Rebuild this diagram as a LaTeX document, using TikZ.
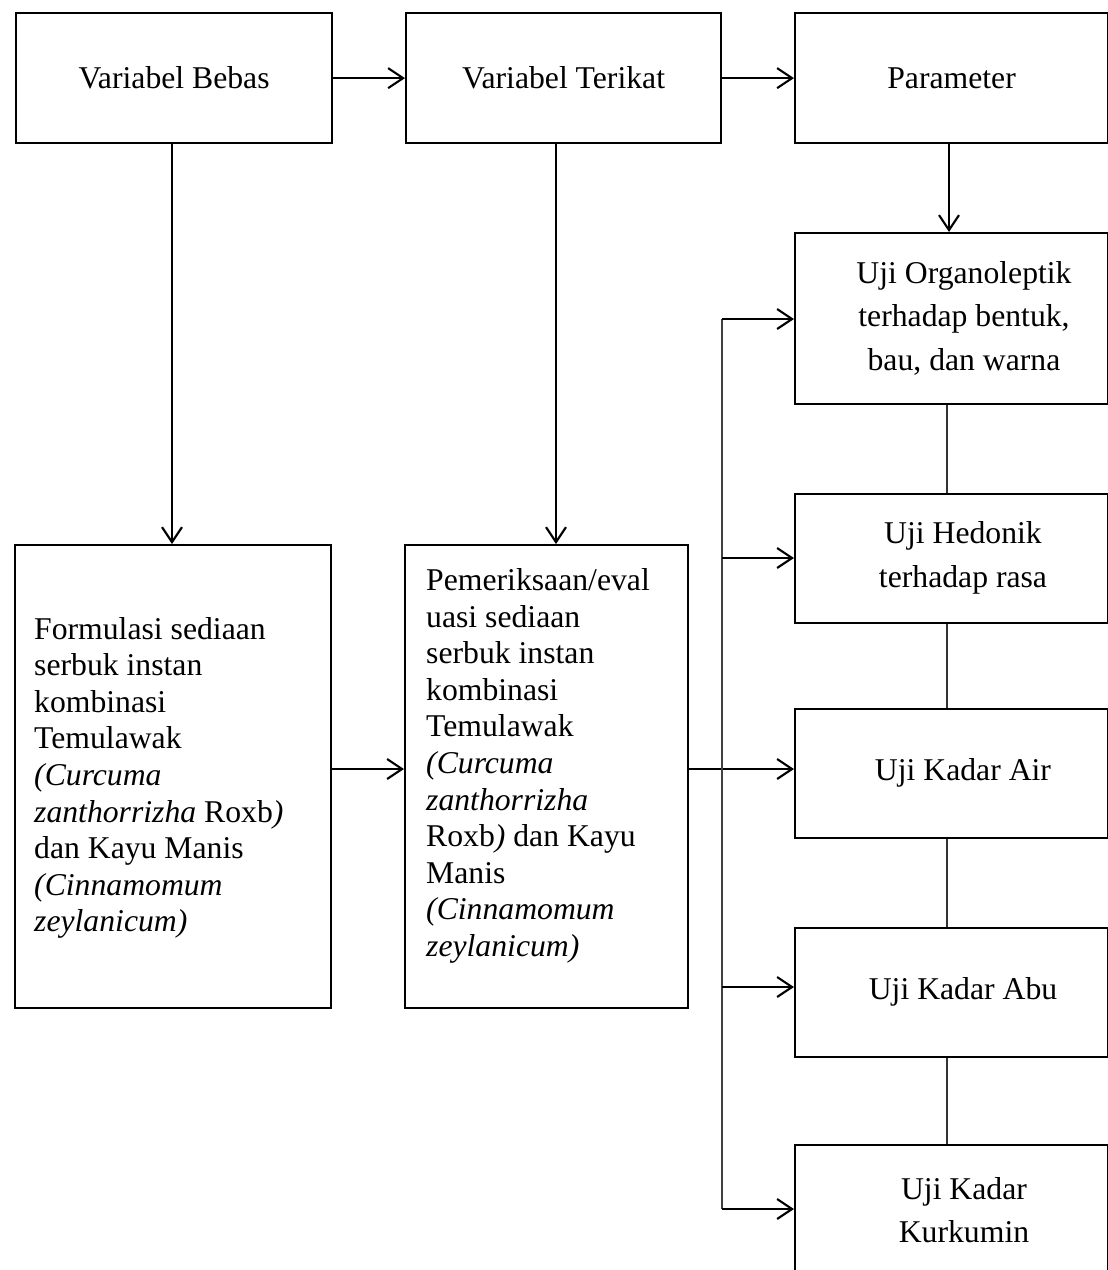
\documentclass[tikz,border=0pt]{standalone}
\usepackage{fontspec}
\setmainfont{Liberation Serif}
\usetikzlibrary{arrows.meta}
\begin{document}
\begin{tikzpicture}[x=1pt,y=-1pt,
  box/.style={draw, line width=2.2pt, inner sep=0pt, anchor=north west,
    font=\fontsize{31.7}{36.7}\selectfont},
  ltxt/.style={font=\fontsize{31.7}{36.6}\selectfont, align=left, inner sep=0pt, anchor=west},
  rtxt/.style={font=\fontsize{31.7}{43.5}\selectfont, align=center, inner sep=0pt},
  arr/.style={line width=2.1pt, -{Straight Barb[length=15pt,width=20pt,line width=2.1pt]}},
  link/.style={line width=1.3pt, draw=black!80},
  bus/.style={line width=1.7pt, draw=black!75}]
\useasboundingbox (0,0) rectangle (1108,1270);
\clip (0,0) rectangle (1108,1270);

% top row
\node[box, minimum width=316, minimum height=130] (bebas) at (15,12) {Variabel Bebas};
\node[box, minimum width=315, minimum height=130] (terikat) at (405,12) {Variabel Terikat};
\node[box, minimum width=313, minimum height=130] (param) at (794,12) {Parameter};

% left big boxes
\node[box, minimum width=316, minimum height=463] (form) at (14,544) {};
\node[box, minimum width=283, minimum height=463] (pem) at (404,544) {};
\node[ltxt] (formT) at (34,778) {Formulasi sediaan\\
serbuk instan\\
kombinasi\\
Temulawak\\
\textit{(Curcuma}\\
\textit{zanthorrizha} Roxb\textit{)}\\
dan Kayu Manis\\
\textit{(Cinnamomum}\\
\textit{zeylanicum)}};
\node[ltxt] (pemT) at (426,766) {Pemeriksaan/eval\\
uasi sediaan\\
serbuk instan\\
kombinasi\\
Temulawak\\
\textit{(Curcuma}\\
\textit{zanthorrizha}\\
Roxb\textit{)} dan Kayu\\
Manis\\
\textit{(Cinnamomum}\\
\textit{zeylanicum)}};

% right column boxes
\node[box, minimum width=313, minimum height=171] (org) at (794,232) {};
\node[box, minimum width=313, minimum height=129] (hed) at (794,493) {};
\node[box, minimum width=313, minimum height=129] (air) at (794,708) {};
\node[box, minimum width=313, minimum height=129] (abu) at (794,927) {};
\node[box, minimum width=313, minimum height=160] (kur) at (794,1144) {};
\node[rtxt] (orgT) at (964,318) {Uji Organoleptik\\terhadap bentuk,\\bau, dan warna};
\node[rtxt] (hedT) at (963,558) {Uji Hedonik\\terhadap rasa};
\node[rtxt] (airT) at (963,773) {Uji Kadar Air};
\node[rtxt] (abuT) at (963,992) {Uji Kadar Abu};
\node[rtxt] (kurT) at (964,1210) {Uji Kadar\\Kurkumin};

% helper coordinates
\coordinate (dn) at (556,0);
\coordinate (mid) at (0,769);
\coordinate (bus) at (722,0);
\coordinate (yo) at (0,319);
\coordinate (yh) at (0,558);
\coordinate (ya) at (0,987);
\coordinate (yk) at (0,1209);
\coordinate (lk) at (947,0);
\coordinate (pd) at (949,0);
\coordinate (bd) at (172,0);

% top arrows
\draw[arr] (bebas.east) -- (terikat.west);
\draw[arr] (terikat.east) -- (param.west);
\draw[arr] (param.south -| pd) -- (org.north -| pd);
\draw[arr] (bebas.south -| bd) -- (form.north -| bd);
\draw[arr] (terikat.south -| dn) -- (pem.north -| dn);
\draw[arr] (form.east |- mid) -- (pem.west |- mid);
\draw[arr] (pem.east |- mid) -- (air.west |- mid);

% bus
\draw[bus] (bus |- yo) -- (bus |- yk);
\draw[arr] (bus |- yo) -- (org.west |- yo);
\draw[arr] (bus |- yh) -- (hed.west |- yh);
\draw[arr] (bus |- ya) -- (abu.west |- ya);
\draw[arr] (bus |- yk) -- (kur.west |- yk);

% links between right boxes
\draw[link] (org.south -| lk) -- (hed.north -| lk);
\draw[link] (hed.south -| lk) -- (air.north -| lk);
\draw[link] (air.south -| lk) -- (abu.north -| lk);
\draw[link] (abu.south -| lk) -- (kur.north -| lk);
\end{tikzpicture}
\end{document}
